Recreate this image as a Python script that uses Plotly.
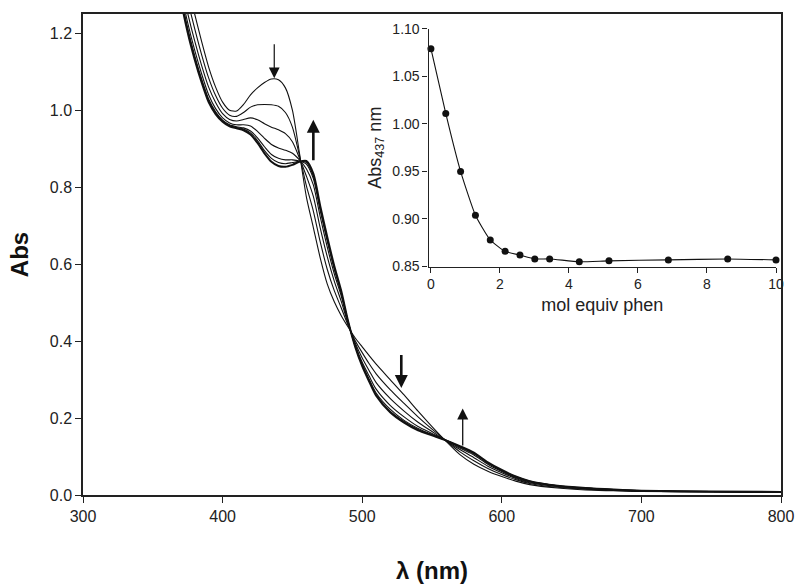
import plotly.graph_objects as go

# Wavelength grid (nm)
wavelength = [360, 365, 370, 375, 380, 385, 390, 395, 400, 405, 410, 415, 420, 425, 430, 435,
              440, 445, 450, 455, 460, 465, 470, 475, 480, 485, 490, 495, 500, 505, 510, 520,
              530, 540, 550, 560, 570, 580, 590, 600, 610, 620, 640, 660, 680, 700, 750, 800]

# Spectra at successive additions of phen (0 equiv -> excess)
spec_0 = [1.62, 1.50, 1.40, 1.32, 1.25, 1.178, 1.112, 1.06, 1.021, 1.000, 0.998, 1.015, 1.040, 1.058, 1.072, 1.081,
          1.079, 1.058, 1.000, 0.890, 0.775, 0.695, 0.615, 0.548, 0.502, 0.466, 0.436, 0.408, 0.385, 0.362, 0.340, 0.300,
          0.260, 0.218, 0.178, 0.140, 0.105, 0.080, 0.062, 0.048, 0.036, 0.027, 0.018, 0.013, 0.011, 0.009, 0.008, 0.007]
spec_1 = [1.598, 1.475, 1.366, 1.285, 1.212, 1.144, 1.084, 1.038, 1.005, 0.987, 0.984, 0.994, 1.008, 1.014, 1.015, 1.014,
          1.010, 0.994, 0.956, 0.883, 0.804, 0.738, 0.657, 0.586, 0.531, 0.486, 0.440, 0.401, 0.370, 0.341, 0.315, 0.274,
          0.238, 0.203, 0.171, 0.141, 0.112, 0.089, 0.069, 0.053, 0.040, 0.030, 0.020, 0.015, 0.012, 0.010, 0.008, 0.007]
spec_2 = [1.579, 1.454, 1.336, 1.252, 1.180, 1.116, 1.060, 1.020, 0.991, 0.976, 0.972, 0.976, 0.980, 0.975, 0.965, 0.956,
          0.949, 0.939, 0.918, 0.876, 0.829, 0.776, 0.693, 0.619, 0.556, 0.503, 0.444, 0.395, 0.356, 0.323, 0.292, 0.251,
          0.218, 0.189, 0.165, 0.141, 0.118, 0.097, 0.075, 0.058, 0.043, 0.032, 0.022, 0.016, 0.013, 0.010, 0.009, 0.008]
spec_3 = [1.565, 1.437, 1.313, 1.227, 1.156, 1.094, 1.040, 1.004, 0.980, 0.967, 0.962, 0.962, 0.959, 0.945, 0.927, 0.911,
          0.902, 0.896, 0.888, 0.871, 0.848, 0.806, 0.722, 0.644, 0.575, 0.517, 0.447, 0.390, 0.345, 0.309, 0.275, 0.233,
          0.203, 0.178, 0.160, 0.142, 0.122, 0.104, 0.080, 0.061, 0.045, 0.034, 0.023, 0.017, 0.013, 0.011, 0.009, 0.008]
spec_4 = [1.556, 1.427, 1.300, 1.213, 1.142, 1.081, 1.029, 0.996, 0.974, 0.962, 0.957, 0.954, 0.946, 0.928, 0.905, 0.885,
          0.875, 0.871, 0.871, 0.868, 0.860, 0.822, 0.738, 0.659, 0.587, 0.524, 0.449, 0.387, 0.340, 0.301, 0.265, 0.223,
          0.194, 0.173, 0.157, 0.142, 0.125, 0.107, 0.083, 0.063, 0.047, 0.035, 0.024, 0.018, 0.014, 0.011, 0.009, 0.008]
spec_5 = [1.553, 1.423, 1.294, 1.207, 1.137, 1.076, 1.025, 0.993, 0.972, 0.960, 0.955, 0.951, 0.941, 0.921, 0.895, 0.875,
          0.864, 0.861, 0.864, 0.867, 0.864, 0.829, 0.745, 0.665, 0.591, 0.527, 0.449, 0.386, 0.337, 0.298, 0.261, 0.218,
          0.191, 0.170, 0.156, 0.142, 0.126, 0.109, 0.084, 0.064, 0.048, 0.036, 0.024, 0.018, 0.014, 0.011, 0.009, 0.008]
spec_final = [1.55, 1.42, 1.29, 1.202, 1.132, 1.072, 1.021, 0.990, 0.970, 0.958, 0.953, 0.948, 0.937, 0.915, 0.888, 0.866,
              0.855, 0.853, 0.858, 0.866, 0.868, 0.835, 0.750, 0.670, 0.595, 0.530, 0.450, 0.385, 0.335, 0.295, 0.258, 0.215,
              0.188, 0.168, 0.155, 0.142, 0.127, 0.110, 0.085, 0.065, 0.048, 0.036, 0.024, 0.018, 0.014, 0.011, 0.009, 0.008]

spectra = [spec_0, spec_1, spec_2, spec_3, spec_4, spec_5, spec_final]

# Inset: absorbance at 437 nm vs mol equiv phen
mol_equiv = [0, 0.43, 0.86, 1.29, 1.72, 2.15, 2.58, 3.01, 3.44, 4.30, 5.16, 6.88, 8.60, 10.0]
abs_437 = [1.079, 1.011, 0.950, 0.904, 0.878, 0.866, 0.862, 0.858, 0.858, 0.855, 0.856, 0.857, 0.858, 0.857]

FONT = "Liberation Sans, Arial, sans-serif"

fig = go.Figure()
for i, s in enumerate(spectra):
    fig.add_trace(go.Scatter(
        x=wavelength, y=s, mode="lines",
        line=dict(color="#111111", width=2.0 if i == len(spectra) - 1 else 1.1,
                  shape="spline", smoothing=0.7),
        showlegend=False, hoverinfo="skip", cliponaxis=True))

fig.add_trace(go.Scatter(
    x=mol_equiv, y=abs_437, mode="lines+markers",
    line=dict(color="#111111", width=1.1, shape="spline", smoothing=0.5),
    marker=dict(color="#111111", size=7),
    xaxis="x2", yaxis="y2", showlegend=False, cliponaxis=False))

W, H = 800, 588
L, R, T, B = 83, 18, 6, 92.5
pw, ph = W - L - R, H - T - B

def px_x(p):
    return (p - L) / pw

def px_y(p):
    return (H - B - p) / ph

fig.update_layout(
    width=W, height=H,
    margin=dict(l=L, r=R, t=T, b=B),
    paper_bgcolor="white", plot_bgcolor="white",
    font=dict(family=FONT, color="#222222"),
    xaxis=dict(range=[300, 800], tickvals=[300, 400, 500, 600, 700, 800],
               ticks="outside", ticklen=6, tickwidth=1.2, tickcolor="#222",
               showline=True, linecolor="#222", linewidth=1.5, mirror=True,
               showgrid=False, zeroline=False, tickfont=dict(size=16),
               title=dict(text="<b>λ (nm)</b>", font=dict(size=24, color="#111"), standoff=38)),
    yaxis=dict(range=[0, 1.25], tickvals=[0, 0.2, 0.4, 0.6, 0.8, 1.0, 1.2], tickformat=".1f",
               ticks="outside", ticklen=6, tickwidth=1.2, tickcolor="#222",
               showline=True, linecolor="#222", linewidth=1.5, mirror=True,
               showgrid=False, zeroline=False, tickfont=dict(size=16),
               title=dict(text="<b>Abs</b>", font=dict(size=24, color="#111"), standoff=14)),
    xaxis2=dict(domain=[px_x(429), px_x(777)], anchor="y2", range=[-0.07, 10.0],
                tickvals=[0, 2, 4, 6, 8, 10], ticks="outside", ticklen=5, tickcolor="#222",
                showline=True, linecolor="#222", linewidth=1.2, showgrid=False, zeroline=False,
                tickfont=dict(size=14),
                title=dict(text="mol equiv phen", font=dict(size=18, color="#222"), standoff=6)),
    yaxis2=dict(domain=[px_y(263), px_y(21)], anchor="x2", range=[0.85, 1.10],
                tickvals=[0.85, 0.90, 0.95, 1.00, 1.05, 1.10], tickformat=".2f",
                ticks="outside", ticklen=5, tickcolor="#222",
                showline=True, linecolor="#222", linewidth=1.2, showgrid=False, zeroline=False,
                tickfont=dict(size=14),
                title=dict(text="Abs<sub>437</sub> nm", font=dict(size=18, color="#222"), standoff=6)),
)

arrows = [
    dict(x=437, y=1.083, ax=437, ay=1.175, w=1.2, s=1.8),
    dict(x=465, y=0.975, ax=465, ay=0.866, w=2.6, s=1.0),
    dict(x=528, y=0.278, ax=528, ay=0.368, w=2.6, s=1.0),
    dict(x=572, y=0.225, ax=572, ay=0.125, w=1.3, s=1.7),
]
for a in arrows:
    fig.add_annotation(x=a["x"], y=a["y"], ax=a["ax"], ay=a["ay"],
                       xref="x", yref="y", axref="x", ayref="y",
                       text="", showarrow=True, arrowhead=2,
                       arrowwidth=a["w"], arrowsize=a["s"], arrowcolor="#111")

fig.write_html("out.html", config={"displayModeBar": False},
               post_script="document.body.style.margin='0';")
